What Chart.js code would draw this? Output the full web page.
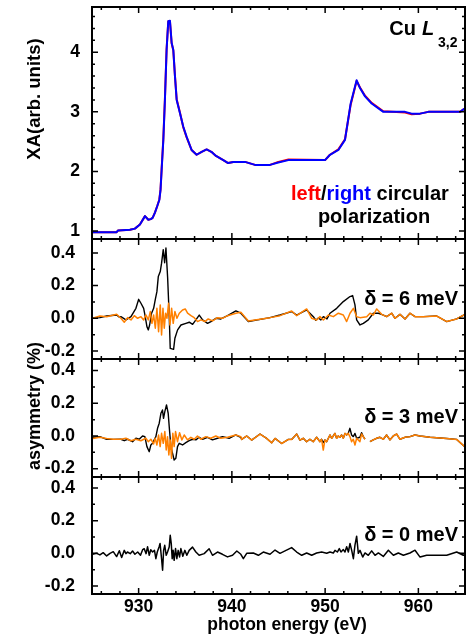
<!DOCTYPE html>
<html><head><meta charset="utf-8">
<script src="https://cdn.jsdelivr.net/npm/chart.js@4.4.1/dist/chart.umd.min.js"></script>
<style>html,body{margin:0;padding:0;background:#fff;}canvas{display:block;}</style>
</head><body>
<canvas id="c" width="474" height="639" style="width:474px;height:639px"></canvas>
<script>
// ---------- data (photon energy eV, value) ----------
const xaRight = [[925.07,0.98],[926.5,0.98],[927.64,0.98],[927.8,1.01],[929.07,1.02],[929.6,1.04],[930.14,1.11],[930.68,1.25],[931.04,1.19],[931.3,1.2],[931.5,1.22],[931.75,1.31],[932.0,1.42],[932.22,1.52],[932.35,1.69],[932.47,2.03],[932.65,2.53],[932.82,3.2],[933.0,4.04],[933.18,4.52],[933.36,4.53],[933.54,4.16],[933.72,4.04],[933.9,3.59],[934.08,3.2],[934.43,2.98],[934.79,2.75],[935.15,2.58],[935.68,2.36],[936.22,2.28],[936.76,2.33],[937.29,2.37],[937.8,2.33],[938.3,2.26],[939.08,2.19],[939.6,2.14],[940.15,2.16],[940.87,2.16],[941.41,2.16],[942.48,2.11],[944.09,2.11],[944.98,2.15],[946.06,2.19],[949.99,2.19],[950.52,2.28],[951.42,2.36],[952.13,2.53],[952.74,3.14],[953.38,3.53],[953.74,3.4],[954.28,3.26],[954.99,3.14],[956.24,3.0],[958.57,3.0],[959.28,2.97],[960.18,2.97],[961.07,3.0],[964.47,3.0],[965.0,3.06]];
const xaLeft = [[925.07,0.98],[926.5,0.98],[927.64,0.98],[927.8,1.01],[929.07,1.02],[929.6,1.04],[930.14,1.11],[930.68,1.25],[931.04,1.19],[931.3,1.2],[931.5,1.22],[931.75,1.31],[932.0,1.42],[932.22,1.53],[932.35,1.7],[932.47,2.05],[932.65,2.55],[932.82,3.22],[933.0,4.05],[933.18,4.52],[933.36,4.52],[933.54,4.15],[933.72,4.03],[933.9,3.6],[934.08,3.21],[934.43,2.99],[934.79,2.74],[935.15,2.57],[935.68,2.36],[936.22,2.28],[936.76,2.33],[937.29,2.37],[937.8,2.33],[938.3,2.26],[939.08,2.19],[939.6,2.14],[940.15,2.16],[940.87,2.16],[941.41,2.16],[942.48,2.11],[944.09,2.11],[944.98,2.16],[946.06,2.2],[949.99,2.19],[950.52,2.28],[951.42,2.37],[952.13,2.54],[952.74,3.12],[953.38,3.52],[953.74,3.41],[954.28,3.27],[954.99,3.15],[956.24,3.01],[958.57,2.99],[959.28,2.96],[960.18,2.97],[961.07,3.0],[964.47,3.0],[965.0,3.06]];

const asym6Black = [[925.07,0],[925.85,0.004],[926.57,0.014],[927.64,0.02],[927.9,0.008],[928.1,0.01],[928.64,-0.01],[929.18,0.01],[929.71,0.061],[930.0,0.116],[930.25,0.092],[930.54,0.061],[930.68,0.02],[930.89,-0.051],[931.04,-0.071],[931.18,-0.041],[931.39,0.031],[931.61,0.061],[931.79,0.116],[931.96,0.163],[932.11,0.255],[932.32,0.286],[932.46,0.337],[932.64,0.42],[932.79,0.34],[932.93,0.43],[933.11,0.25],[933.29,0],[933.39,-0.184],[933.75,-0.19],[933.89,-0.122],[934.18,-0.071],[934.54,-0.041],[935.07,-0.031],[935.43,-0.024],[935.79,-0.037],[936.14,-0.01],[936.5,0.02],[936.86,-0.01],[937.39,-0.031],[937.75,-0.02],[938.29,0],[938.82,-0.004],[939.54,0.016],[940.43,0.045],[940.96,0.031],[941.77,-0.02],[944.09,0.004],[945.16,0.02],[946.41,0.041],[946.95,0.02],[948.02,0.051],[948.74,0.01],[949.0,-0.012],[949.27,0.002],[949.55,-0.01],[949.81,0.01],[950.2,-0.004],[950.52,0.031],[951.24,0.061],[951.95,0.102],[952.67,0.133],[952.95,0.139],[953.2,0.082],[953.38,-0.01],[953.74,-0.041],[954.1,-0.031],[954.63,-0.01],[955.17,0.031],[955.71,0.031],[956.06,0.024],[956.6,0.01],[957.14,0.031],[957.49,0],[958.03,0.024],[958.57,-0.004],[959.1,0.031],[959.64,0.01],[960.53,0.01],[961.96,0.014],[963.04,-0.02],[964.11,-0.004],[965.0,0.024]];
const asym6Orange = [[925.07,0],[925.85,0.014],[926.57,0.01],[927.64,0.025],[928.1,0],[928.46,-0.024],[928.82,0.004],[929.18,-0.01],[929.54,0.016],[929.89,0],[930.25,0.01],[930.54,-0.01],[930.79,0.02],[931.04,-0.01],[931.25,0.041],[931.43,-0.031],[931.61,0.02],[931.79,-0.061],[931.96,0.061],[932.14,-0.082],[932.32,0.082],[932.46,-0.102],[932.61,0.061],[932.75,-0.061],[932.89,0.031],[933.04,0],[933.21,0.092],[933.36,-0.041],[933.54,0.061],[933.71,-0.031],[933.89,0.041],[934.11,0],[934.36,0.031],[934.71,0.051],[935.0,0.057],[935.25,0.031],[935.61,0.016],[935.96,0.004],[936.32,-0.02],[936.68,-0.01],[937.11,-0.02],[937.46,-0.004],[937.93,-0.016],[938.46,0.004],[939.0,0],[939.54,0.016],[940.43,0.031],[940.96,0.037],[941.77,-0.016],[944.09,0.004],[945.16,0.016],[946.41,0.045],[946.95,0.016],[948.02,0.057],[948.56,0],[949.09,-0.01],[949.45,0.01],[949.81,-0.01],[950.35,0.02],[950.88,0.01],[951.42,0.031],[951.95,0.02],[952.31,-0.02],[952.67,0.031],[953.03,0.061],[953.38,0.01],[953.74,0.004],[954.46,0.01],[954.81,0.031],[955.17,0.02],[955.53,0.057],[956.06,0.024],[956.6,0.01],[957.14,0.031],[957.49,0],[958.03,0.024],[958.57,-0.004],[959.1,0.031],[959.64,0.01],[960.53,0.01],[961.96,0.014],[963.04,-0.02],[964.11,-0.004],[965.0,0.024]];

const asym3Black = [[925.07,-0.008],[925.85,-0.004],[926.57,-0.021],[927.28,-0.021],[928.1,-0.02],[928.46,-0.029],[928.81,-0.02],[929.35,-0.035],[929.71,-0.014],[930.06,-0.02],[930.42,0],[930.67,-0.004],[930.89,-0.065],[931.14,-0.096],[931.31,-0.055],[931.49,-0.045],[931.67,-0.024],[931.85,-0.004],[932.03,0.047],[932.21,0.078],[932.39,0.139],[932.56,0.159],[932.67,0.108],[932.81,0.149],[932.99,0.19],[933.17,0.139],[933.31,0.037],[933.46,-0.065],[933.64,-0.106],[933.81,-0.147],[933.99,-0.137],[934.17,-0.065],[934.35,-0.045],[934.71,-0.055],[935.06,-0.041],[935.42,-0.029],[935.78,-0.02],[936.14,-0.024],[936.49,-0.008],[936.85,-0.02],[937.39,-0.008],[937.92,-0.024],[938.46,-0.014],[938.99,-0.004],[939.71,-0.014],[940.42,0.006],[940.96,-0.008],[941.05,-0.021],[941.59,0],[942.12,-0.025],[943.02,0.012],[943.73,-0.015],[944.27,-0.042],[944.63,-0.015],[945.34,-0.046],[946.06,-0.021],[946.41,-0.021],[946.95,0.012],[947.3,-0.025],[947.66,-0.014],[948.01,-0.035],[948.37,-0.02],[948.73,-0.035],[949.09,-0.008],[949.44,-0.035],[949.62,-0.02],[949.8,-0.04],[949.98,-0.024],[950.16,-0.035],[950.52,0.006],[950.7,-0.014],[950.87,0],[951.05,0.016],[951.23,-0.014],[951.41,0],[951.59,-0.008],[951.77,0.006],[951.95,-0.014],[952.13,0.016],[952.3,0.006],[952.48,0.016],[952.66,0.047],[952.84,0.006],[953.02,-0.004],[953.2,0.016],[953.38,-0.014],[953.73,-0.008],[953.91,0.02],[954.09,-0.004],[954.27,-0.02],[954.45,null],[954.81,-0.035],[955.16,-0.024],[955.52,-0.014],[955.88,-0.008],[956.24,-0.02],[956.59,0.006],[956.95,-0.024],[957.31,0],[957.67,0.012],[958.02,-0.02],[958.56,-0.008],[959.1,-0.004],[959.63,0.006],[960.18,0],[961.25,-0.008],[963.04,-0.015],[964.11,-0.021],[965.0,-0.067]];
const asym3Orange = [[925.07,-0.015],[925.85,-0.008],[926.57,-0.015],[927.28,-0.02],[928.1,-0.02],[928.64,-0.014],[929.17,-0.029],[929.71,-0.02],[930.24,-0.029],[930.78,-0.014],[931.03,-0.035],[931.31,-0.02],[931.6,-0.049],[931.78,-0.014],[931.96,-0.055],[932.14,0.006],[932.31,-0.065],[932.46,0.016],[932.64,-0.045],[932.81,0.027],[932.96,-0.086],[933.1,-0.004],[933.24,-0.116],[933.39,-0.024],[933.53,-0.137],[933.67,0.016],[933.81,-0.065],[933.96,0.027],[934.17,-0.035],[934.39,0.02],[934.64,-0.024],[934.89,0.006],[935.24,-0.024],[935.6,-0.008],[935.96,-0.02],[936.31,0],[936.67,-0.02],[937.21,-0.004],[937.74,-0.014],[938.28,0],[938.81,-0.014],[939.53,-0.008],[940.42,0.006],[940.96,-0.004],[941.05,-0.021],[941.59,0],[942.12,-0.025],[943.02,0.012],[943.73,-0.015],[944.27,-0.042],[944.63,-0.015],[945.34,-0.046],[946.06,-0.021],[946.41,-0.021],[946.95,0.012],[947.3,-0.025],[947.66,-0.014],[948.01,-0.035],[948.37,-0.02],[948.73,-0.035],[949.09,-0.008],[949.44,-0.035],[949.62,-0.02],[949.8,-0.086],[949.98,-0.024],[950.16,-0.035],[950.52,0.006],[950.7,-0.014],[950.87,0],[951.05,0.016],[951.23,-0.014],[951.41,0],[951.59,-0.008],[951.77,0.006],[951.95,-0.014],[952.13,0.016],[952.3,0.006],[952.48,0.016],[952.66,-0.004],[952.84,-0.035],[953.02,-0.02],[953.2,-0.055],[953.38,-0.014],[953.73,-0.035],[953.91,0.012],[954.09,-0.004],[954.27,-0.02],[954.45,null],[954.81,-0.035],[955.16,-0.024],[955.52,-0.014],[955.88,-0.008],[956.24,-0.02],[956.59,0.006],[956.95,-0.024],[957.31,0],[957.67,0.012],[958.02,-0.02],[958.56,-0.008],[959.1,-0.004],[959.63,0.006],[960.18,0],[961.25,-0.008],[963.04,-0.015],[964.11,-0.021],[965.0,-0.067]];

const asym0Black = [[925.07,-0.006],[925.5,0],[925.85,-0.01],[926.2,0.004],[926.57,-0.016],[926.93,0],[927.28,0.01],[927.64,-0.02],[927.93,0.016],[928.18,-0.025],[928.46,0.018],[928.64,-0.002],[928.8,0.008],[929.1,-0.002],[929.35,0.014],[929.6,-0.006],[929.9,0.008],[930.2,-0.012],[930.43,0.022],[930.6,0.028],[930.8,-0.002],[930.96,0.04],[931.14,-0.012],[931.3,0.022],[931.5,0.008],[931.7,0.018],[931.85,-0.033],[932.0,0.008],[932.2,0.04],[932.3,0.06],[932.46,-0.033],[932.57,-0.104],[932.68,0.018],[932.8,0.049],[932.96,-0.012],[933.1,0.008],[933.28,0.038],[933.39,0.11],[933.5,0.059],[933.6,-0.033],[933.7,0.018],[933.81,-0.043],[933.96,0.029],[934.1,-0.033],[934.24,0.018],[934.39,-0.022],[934.53,0.029],[934.74,-0.018],[934.96,0.018],[935.17,-0.012],[935.42,0.018],[935.78,0.038],[936.14,0.008],[936.49,-0.012],[937.03,-0.002],[937.56,0.028],[937.92,-0.012],[938.46,0.008],[938.99,-0.006],[939.53,-0.022],[940.07,-0.012],[940.53,0.014],[940.96,-0.006],[941.23,-0.033],[941.59,0],[942.3,0.002],[942.84,-0.012],[943.37,0.008],[944.09,-0.006],[944.63,0.02],[945.16,0],[945.7,0.015],[946.41,0.035],[946.95,0.008],[947.49,-0.012],[948.02,0.002],[948.56,-0.012],[949.09,0.002],[949.63,0.008],[950.17,0],[950.52,0.008],[950.88,0.002],[951.06,0.018],[951.31,0.008],[951.52,0.029],[951.7,0.008],[951.95,0.023],[952.13,0.008],[952.31,0.04],[952.49,0.008],[952.67,0.06],[952.85,0.018],[953.03,-0.033],[953.2,0.05],[953.38,0.105],[953.56,0],[953.74,0.018],[954.03,-0.023],[954.28,0.002],[954.63,-0.012],[954.99,0.015],[955.35,-0.012],[955.71,0.002],[956.24,-0.019],[956.78,0.019],[957.32,-0.012],[957.85,0.002],[958.39,-0.012],[959.1,0.002],[959.64,0.019],[960.18,-0.023],[960.89,-0.012],[961.96,-0.012],[963.04,-0.012],[964.11,0.008],[964.82,-0.012],[965.0,-0.005]];

// ---------- ticks ----------
const xTickValues = [930, 940, 950, 960];
const xTickLabels = ['930', '940', '950', '960'];
const xaTickValues = [1, 2, 3, 4];
const xaTickLabels = ['1', '2', '3', '4'];
const asymTickValues = [-0.2, 0, 0.2, 0.4];
const asymTickLabels = ['-0.2', '0.0', '0.2', '0.4'];
const panelLabels = ['\u03b4 = 6 meV', '\u03b4 = 3 meV', '\u03b4 = 0 meV'];

// ---------- style ----------
const FONT = '"Liberation Sans", Arial, sans-serif';
const ORANGE = '#ff8000';
const pts = a => a.map(([x, y]) => ({x, y}));

function yScale(weight, stackWeight, min, max, values, labels, pad) {
  return {
    type: 'linear', position: 'left', stack: 'panels', stackWeight, weight, min, max,
    grid: {display: false}, border: {display: false},
    afterBuildTicks: s => { s.ticks = values.map(v => ({value: v})); },
    ticks: {callback: (v, i) => labels[i], color: '#000', padding: pad, autoSkip: false,
            font: {family: FONT, size: 17.5, weight: 'bold'}},
    afterFit: s => { s.width = 92; s.paddingTop = 0; s.paddingBottom = 0; }
  };
}

const panelIds = ['y1', 'y2', 'y3', 'y4'];
const minorStep = {y1: 0.2, y2: 0.1, y3: 0.1, y4: 0.1};

const framePlugin = {
  id: 'frames',
  afterDatasetsDraw(chart) {
    const {ctx, chartArea, scales} = chart;
    const xs = scales.x;
    const L = chartArea.left, R = chartArea.right;
    ctx.save();
    ctx.strokeStyle = '#000';
    ctx.lineCap = 'butt';
    panelIds.forEach(id => {
      const ys = scales[id];
      const T = ys.top, B = ys.bottom;
      ctx.lineWidth = 1.5;
      ctx.beginPath();
      for (let v = xs.min + 1; v < xs.max; v += 2) {
        const major = xTickValues.includes(v);
        const len = major ? 6 : 3;
        const p = xs.getPixelForValue(v);
        ctx.moveTo(p, T); ctx.lineTo(p, T + len);
        ctx.moveTo(p, B); ctx.lineTo(p, B - len);
      }
      const step = minorStep[id];
      const majors = id === 'y1' ? xaTickValues : asymTickValues;
      const start = Math.ceil(ys.min / step - 1e-6);
      const end = Math.floor(ys.max / step + 1e-6);
      for (let k = start; k <= end; k++) {
        const v = +(k * step).toFixed(3);
        const major = majors.some(m => Math.abs(m - v) < 1e-6);
        const len = major ? 6 : 3;
        const p = ys.getPixelForValue(v);
        ctx.moveTo(L, p); ctx.lineTo(L + len, p);
        ctx.moveTo(R, p); ctx.lineTo(R - len, p);
      }
      ctx.stroke();
      ctx.lineWidth = 2;
      ctx.strokeRect(L, T, R - L, B - T);
    });
    ctx.restore();
  },
  afterDraw(chart) {
    const {ctx, chartArea, scales} = chart;
    const R = chartArea.right;
    ctx.save();
    ctx.fillStyle = '#000';
    ctx.textBaseline = 'alphabetic';
    // Cu L3,2
    const t1 = scales.y1.top;
    ctx.font = 'bold 20px ' + FONT;
    ctx.textAlign = 'right';
    ctx.fillText('Cu', R - 49, t1 + 28);
    ctx.textAlign = 'left';
    ctx.font = 'italic bold 20px ' + FONT;
    ctx.fillText('L', R - 43, t1 + 28);
    ctx.font = 'bold 14px ' + FONT;
    ctx.fillText('3,2', R - 27, t1 + 40);
    // left/right circular polarization
    ctx.font = 'bold 20px ' + FONT;
    const parts = [['left', '#ff0000'], ['/', '#000'], ['right', '#0000ff'], [' circular', '#000']];
    let x = R - 174;
    const yb = t1 + 193;
    parts.forEach(([s, c]) => { ctx.fillStyle = c; ctx.fillText(s, x, yb); x += ctx.measureText(s).width; });
    ctx.fillStyle = '#000';
    ctx.textAlign = 'center';
    ctx.fillText('polarization', R - 91, t1 + 216);
    // delta labels
    ctx.textAlign = 'right';
    const offs = [66, 64, 64];
    ['y2', 'y3', 'y4'].forEach((id, i) => {
      ctx.fillText(panelLabels[i], R - 7, scales[id].top + offs[i]);
    });
    // axis titles
    ctx.textAlign = 'center';
    ctx.textBaseline = 'middle';
    ctx.font = 'bold 18.5px ' + FONT;
    ctx.save(); ctx.translate(35, 99); ctx.rotate(-Math.PI / 2); ctx.fillText('XA(arb. units)', 0, 0); ctx.restore();
    ctx.font = 'bold 18px ' + FONT;
    ctx.save(); ctx.translate(35, 406); ctx.rotate(-Math.PI / 2); ctx.fillText('asymmetry (%)', 0, 0); ctx.restore();
    ctx.font = 'bold 17.5px ' + FONT;
    ctx.fillText('photon energy (eV)', 287, 625);
    ctx.restore();
  }
};

const ds = (data, yAxisID, color, width, order) => ({
  data: pts(data), yAxisID, xAxisID: 'x', borderColor: color, backgroundColor: color,
  borderWidth: width, pointRadius: 0, tension: 0, order, borderJoinStyle: 'round', spanGaps: false
});

new Chart(document.getElementById('c'), {
  type: 'line',
  data: {
    datasets: [
      ds(xaRight, 'y1', '#0000ff', 2, 0),
      ds(xaLeft, 'y1', '#ff0000', 2, 1),
      ds(asym6Orange, 'y2', ORANGE, 1.5, 0),
      ds(asym6Black, 'y2', '#000', 1.4, 1),
      ds(asym3Orange, 'y3', ORANGE, 1.5, 0),
      ds(asym3Black, 'y3', '#000', 1.4, 1),
      ds(asym0Black, 'y4', '#000', 1.5, 0)
    ]
  },
  options: {
    responsive: false, animation: false, devicePixelRatio: 1,
    layout: {padding: {left: 0, right: 9, top: 7, bottom: 0}, autoPadding: false},
    plugins: {legend: {display: false}, tooltip: {enabled: false}},
    scales: {
      x: {
        type: 'linear', position: 'bottom', min: 925, max: 965,
        grid: {display: false}, border: {display: false},
        afterBuildTicks: s => { s.ticks = xTickValues.map(v => ({value: v})); },
        ticks: {callback: (v, i) => xTickLabels[i], color: '#000', padding: -5, maxRotation: 0, autoSkip: false,
                font: {family: FONT, size: 17.5, weight: 'bold'}},
        afterFit: s => { s.height = 45; s.paddingLeft = 0; s.paddingRight = 0; }
      },
      y1: yScale(4, 232, 0.866, 4.76, xaTickValues, xaTickLabels, 4),
      y2: yScale(3, 120, -0.249, 0.485, asymTickValues, asymTickLabels, 9),
      y3: yScale(2, 118, -0.251, 0.471, asymTickValues, asymTickLabels, 9),
      y4: yScale(1, 117, -0.249, 0.467, asymTickValues, asymTickLabels, 9)
    }
  },
  plugins: [framePlugin]
});
</script>
</body></html>
